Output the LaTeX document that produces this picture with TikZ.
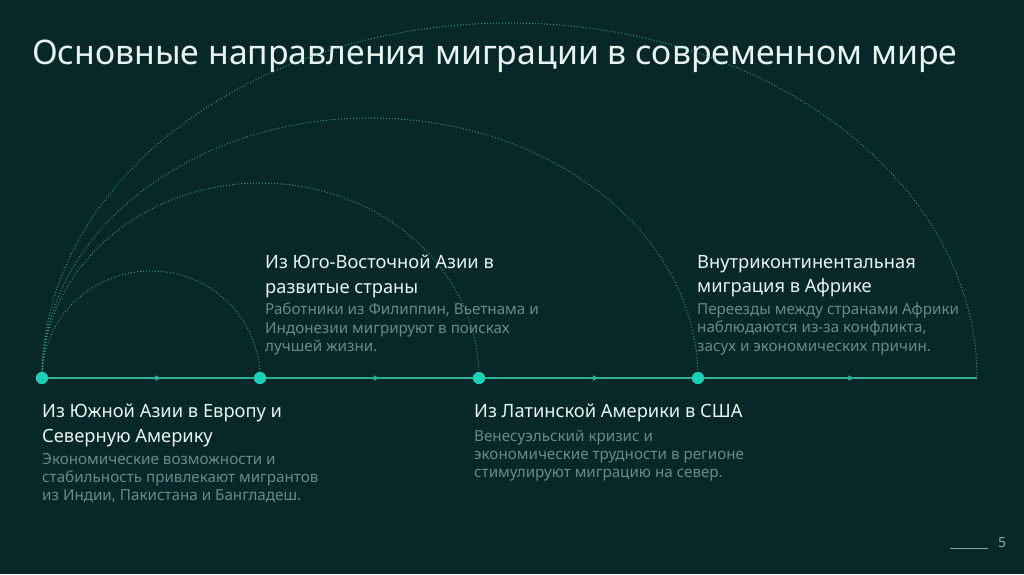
\documentclass[tikz,border=0pt]{standalone}
\usepackage{fontspec}
\setmainfont{Noto Sans}
\usetikzlibrary{arrows.meta,decorations.markings}
\definecolor{bg}{HTML}{072729}
\definecolor{dotc}{HTML}{1DCFB6}
\definecolor{linec}{HTML}{2FAF96}
\definecolor{arcc}{HTML}{3DB9A2}
\definecolor{headc}{HTML}{E6F3EF}
\definecolor{descc}{HTML}{6B8884}
\definecolor{numc}{HTML}{8FA7A3}
\tikzset{
  stop/.style={circle,fill=dotc,inner sep=0pt,minimum size=12pt},
  flow/.style={draw=linec,line width=1.4pt,
    postaction={decorate},
    decoration={markings,mark=at position 0.55 with {\arrow{Triangle[length=6pt,width=5pt]}}}},
  route/.style={draw=arcc,line width=1.25pt,line cap=round,dash pattern=on 0pt off 3pt,opacity=0.85},
  head/.style={anchor=north west,align=left,inner sep=0pt,text=headc,
    font=\fontsize{18.3}{24.5}\selectfont},
  desc/.style={anchor=north west,align=left,inner sep=0pt,text=descc,
    font=\fontsize{15.2}{18.2}\selectfont},
}
\begin{document}
\begin{tikzpicture}[x=1pt,y=-1pt]
\fill[bg] (0,0) rectangle (1024,574);
\useasboundingbox (0,0) rectangle (1024,574);
\node[anchor=base west,inner sep=0pt,text=headc,font=\fontsize{33.8}{40}\selectfont] (title) at (32,64) {Основные направления миграции в современном мире};
% arcs
\coordinate (e) at (977,378);
\node[stop] (n1) at (42,378) {};
\node[stop] (n2) at (260,378) {};
\node[stop] (n3) at (479,378) {};
\node[stop] (n4) at (698,378) {};
\draw[route] (n1.center) arc[start angle=180,end angle=360,x radius=109,y radius=107];
\draw[route] (n1.center) arc[start angle=180,end angle=360,x radius=218.5,y radius=195];
\draw[route] (n1.center) arc[start angle=180,end angle=360,x radius=328,y radius=260];
\draw[route] (n1.center) arc[start angle=180,end angle=360,x radius=467.5,y radius=355];
% main line
\draw[flow] (n1) -- (n2);
\draw[flow] (n2) -- (n3);
\draw[flow] (n3) -- (n4);
\draw[flow] (n4) -- (e);
\node[stop] at (n1) {};
\node[stop] at (n2) {};
\node[stop] at (n3) {};
\node[stop] at (n4) {};
% texts
\node[head] (h1) at (42,404) {Из Южной Азии в Европу и\\Северную Америку};
\node[desc] (t1) at (42,453) {Экономические возможности и\\стабильность привлекают мигрантов\\из Индии, Пакистана и Бангладеш.};
\node[head] (h2) at (265,255) {Из Юго-Восточной Азии в\\развитые страны};
\node[desc] (t2) at (265,303) {Работники из Филиппин, Вьетнама и\\Индонезии мигрируют в поисках\\лучшей жизни.};
\node[head] (h3) at (474,404) {Из Латинской Америки в США};
\node[desc] (t3) at (474,430) {Венесуэльский кризис и\\экономические трудности в регионе\\стимулируют миграцию на север.};
\node[head] (h4) at (697,255) {Внутриконтинентальная\\миграция в Африке};
\node[desc] (t4) at (697,303) {Переезды между странами Африки\\наблюдаются из-за конфликта,\\засух и экономических причин.};
% page number
\coordinate (pl) at (950,548);
\coordinate (pr) at (988,548);
\draw[numc,line width=1pt] (pl) -- (pr);
\node[anchor=base west,inner sep=0pt,text=numc,font=\fontsize{14}{16}\selectfont] (pg) at (998,547) {5};
\end{tikzpicture}
\end{document}
